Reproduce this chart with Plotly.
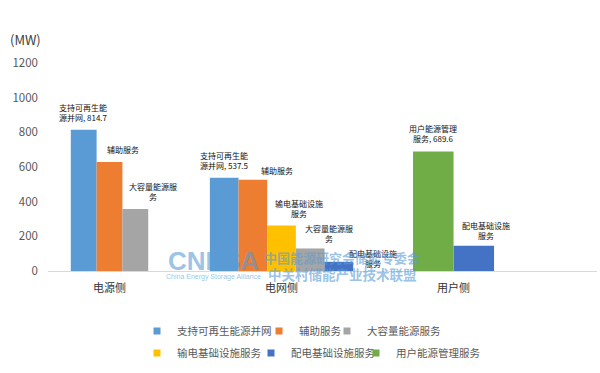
import plotly.graph_objects as go

# ---------------- data ----------------
categories = ["电源侧", "电网侧", "用户侧"]
series_names = ["支持可再生能源并网", "辅助服务", "大容量能源服务",
                "输电基础设施服务", "配电基础设施服务", "用户能源管理服务"]
renewable = [814.7, 537.5, None]
ancillary = [629, 526, None]
bulk = [358, 130, None]
transmission = [None, 262, None]
distribution = [None, 53, 145]
user_mgmt = [None, None, 689.6]
series_values = [renewable, ancillary, bulk, transmission, distribution, user_mgmt]
# order of the bars inside each category (series indices)
bar_order = [[0, 1, 2], [0, 1, 3, 2, 4], [5, 4]]
label_lines = ["支持可再生能<br>源并网", "辅助服务", "大容量能源服<br>务",
               "输电基础设施<br>服务", "配电基础设施<br>服务", "用户能源管理<br>服务"]
label_shows_value = [True, False, False, False, False, True]
y_ticks = [0, 200, 400, 600, 800, 1000, 1200]
unit_label = "(MW)"
wm_logo = "CNESA"
wm_sub = "China Energy Storage Alliance"
wm_line1 = "中国能源研究会储能专委会"
wm_line2 = "中关村储能产业技术联盟"

# ---------------- style ----------------
colors = ["#5B9BD5", "#ED7D31", "#A5A5A5", "#FFC000", "#4472C4", "#70AD47"]
bar_width = [0.150, 0.1666, 0.2355]
FONT = "Noto Sans CJK SC"
W, H = 600, 373
PLOT_L, PLOT_R, PLOT_T, PLOT_B = 48, 597, 63, 271
# label nudges in px keyed by (category, series)
label_nudge = {(0, 1): (13, 0), (0, 2): (18, 0), (1, 1): (24, -3), (1, 3): (17, 0),
               (1, 2): (19, -3), (1, 4): (34, -14), (2, 4): (12, -2)}
legend_pos = [(163, 331), (285, 331), (353, 331), (163, 353), (277, 353), (382, 353)]
LEGEND_MARK_OFF = 26
wm_color = "rgba(91,155,213,0.62)"


def paper_x(px):
    return (px - PLOT_L) / (PLOT_R - PLOT_L)


def paper_y(py):
    return (PLOT_B - py) / (PLOT_B - PLOT_T)


fig = go.Figure()
annotations = []
for s, name in enumerate(series_names):
    xs, ys, ws = [], [], []
    for c in range(len(categories)):
        v = series_values[s][c]
        if v is None:
            continue
        order = bar_order[c]
        j = order.index(s)
        n = len(order)
        w = bar_width[c]
        xc = c + (j - n / 2 + 0.5) * w
        xs.append(xc)
        ys.append(v)
        ws.append(w)
        txt = label_lines[s] + (", " + f"{v:g}" if label_shows_value[s] else "")
        dx, dy = label_nudge.get((c, s), (0, 0))
        annotations.append(dict(x=xc, y=v, xref="x", yref="y", text=txt, showarrow=False,
                                xanchor="center", yanchor="bottom", xshift=dx, yshift=5 + dy,
                                font=dict(size=8, color="#111111", family=FONT)))
    fig.add_trace(go.Bar(x=xs, y=ys, width=ws, marker=dict(color=colors[s], line_width=0),
                         showlegend=False, hoverinfo="skip", name=name))

legend_layout = {}
for s, name in enumerate(series_names):
    key = "legend" if s == 0 else f"legend{s + 1}"
    fig.add_trace(go.Scatter(x=[None], y=[None], mode="markers", name=name, legend=key,
                             marker=dict(symbol="square", size=7, color=colors[s]),
                             showlegend=True, hoverinfo="skip"))
    mx, my = legend_pos[s]
    legend_layout[key] = dict(x=paper_x(mx - LEGEND_MARK_OFF), y=paper_y(my), xanchor="left",
                              yanchor="middle", orientation="h", bgcolor="rgba(0,0,0,0)",
                              font=dict(size=10.5, color="#595959", family=FONT))

# unit label
annotations.append(dict(x=paper_x(25.5), y=paper_y(39.5), xref="paper", yref="paper", text=unit_label,
                        showarrow=False, xanchor="center", yanchor="middle",
                        font=dict(size=13, color="#404040", family=FONT)))
# watermark
annotations += [
    dict(x=paper_x(213), y=paper_y(261), xref="paper", yref="paper", text="<b>" + wm_logo + "</b>",
         showarrow=False, xanchor="center", yanchor="middle",
         font=dict(size=26, color=wm_color, family="Liberation Sans")),
    dict(x=paper_x(213), y=paper_y(277), xref="paper", yref="paper", text=wm_sub, showarrow=False,
         xanchor="center", yanchor="middle", font=dict(size=7, color=wm_color, family="Liberation Sans")),
    dict(x=paper_x(342), y=paper_y(257), xref="paper", yref="paper", text="<b>" + wm_line1 + "</b>",
         showarrow=False, xanchor="center", yanchor="middle",
         font=dict(size=13, color=wm_color, family=FONT)),
    dict(x=paper_x(342), y=paper_y(274), xref="paper", yref="paper", text="<b>" + wm_line2 + "</b>",
         showarrow=False, xanchor="center", yanchor="middle",
         font=dict(size=13.5, color=wm_color, family=FONT)),
]

fig.update_layout(
    width=W, height=H,
    margin=dict(l=PLOT_L, r=W - PLOT_R, t=PLOT_T, b=H - PLOT_B, pad=0),
    paper_bgcolor="white", plot_bgcolor="white",
    font=dict(family=FONT),
    barmode="overlay",
    annotations=annotations,
    xaxis=dict(range=[-0.3576, 2.834], tickvals=[0, 1, 2], ticktext=categories,
               showline=True, linecolor="#D9D9D9", linewidth=1, showgrid=False, zeroline=False,
               ticks="", ticklabelstandoff=7, tickfont=dict(size=11, color="#333333", family=FONT)),
    yaxis=dict(range=[0, 1200], tickvals=y_ticks, showgrid=False, zeroline=False, showline=False,
               ticks="", ticklabelstandoff=9, tickfont=dict(size=11.5, color="#595959", family=FONT)),
    **legend_layout,
)

fig.write_html("out.html")
